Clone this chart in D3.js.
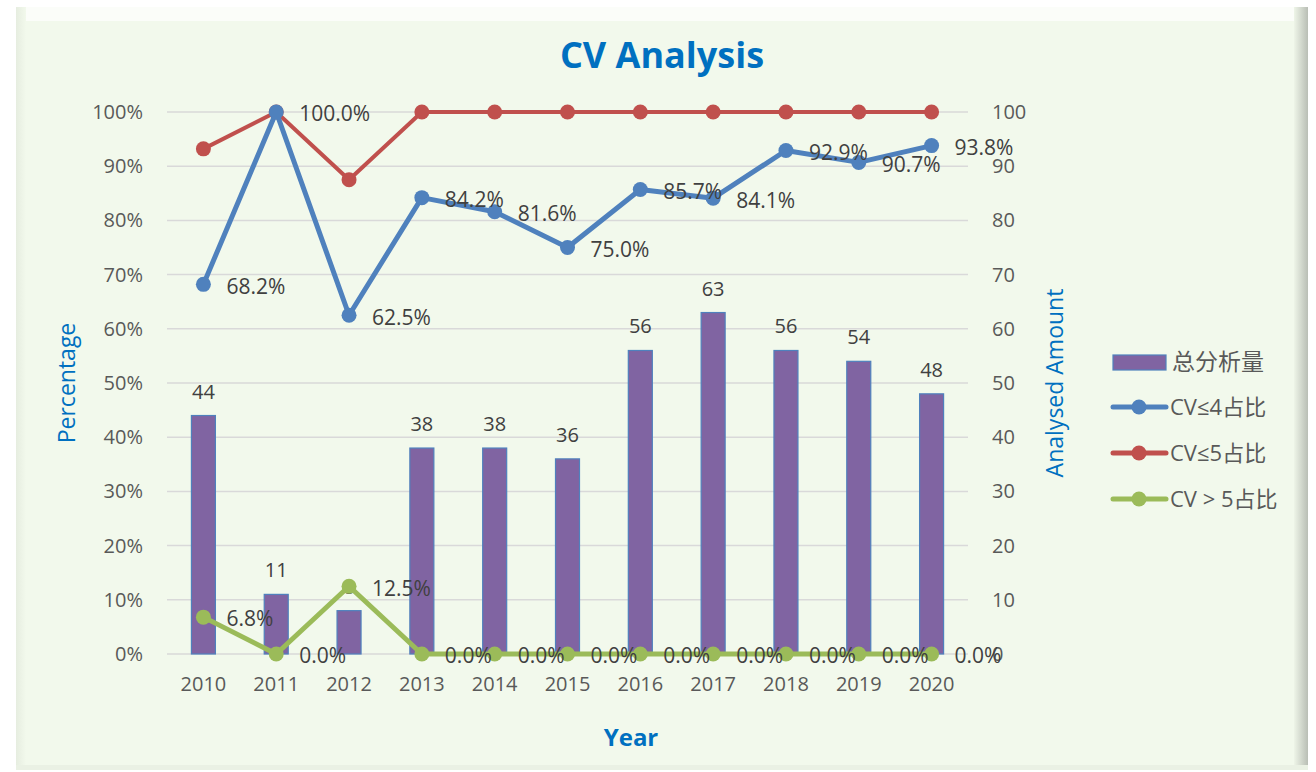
<!DOCTYPE html>
<html>
<head>
<meta charset="utf-8">
<script src="https://cdn.jsdelivr.net/npm/d3@7"></script>
<style>
  body { margin: 0; background: #fff; }
  text { font-family: "Open Sans", "Noto Sans", "Noto Sans CJK SC", sans-serif; }
</style>
</head>
<body>
<svg id="svg" width="1316" height="772"></svg>
<script>
const years = ['2010', '2011', '2012', '2013', '2014', '2015', '2016', '2017', '2018', '2019', '2020']
const amounts = [44, 11, 8, 38, 38, 36, 56, 63, 56, 54, 48]
const cv4 = [0.682, 1.0, 0.625, 0.842, 0.816, 0.75, 0.857, 0.841, 0.929, 0.907, 0.938]
const cv5 = [0.932, 1.0, 0.875, 1.0, 1.0, 1.0, 1.0, 1.0, 1.0, 1.0, 1.0]
const cvOver5 = [0.068, 0, 0.125, 0, 0, 0, 0, 0, 0, 0, 0]
const leftTicks = [0, 0.1, 0.2, 0.3, 0.4, 0.5, 0.6, 0.7, 0.8, 0.9, 1.0]
const rightTicks = [0, 10, 20, 30, 40, 50, 60, 70, 80, 90, 100]

const svg = d3.select('#svg')

// frame with a bevelled edge
const defs = svg.append('defs')
const gr = defs.append('linearGradient').attr('id', 'edgeR').attr('x1', 0).attr('x2', 1)
gr.append('stop').attr('offset', 0).attr('stop-color', '#eef5e8')
gr.append('stop').attr('offset', 1).attr('stop-color', '#b9beb5')
const gl = defs.append('linearGradient').attr('id', 'edgeL').attr('x1', 0).attr('x2', 1)
gl.append('stop').attr('offset', 0).attr('stop-color', '#e6ede0')
gl.append('stop').attr('offset', 1).attr('stop-color', '#f2f9ec')

svg.append('rect').attr('x', 16).attr('y', 7).attr('width', 1292).attr('height', 763).attr('fill', '#f2f9ec')
svg.append('rect').attr('x', 16).attr('y', 7).attr('width', 1292).attr('height', 14).attr('fill', '#fbfdf9')
svg.append('rect').attr('x', 16).attr('y', 7).attr('width', 10).attr('height', 763).attr('fill', 'url(#edgeL)')
svg.append('rect').attr('x', 1294).attr('y', 7).attr('width', 14).attr('height', 763).attr('fill', 'url(#edgeR)')
svg.append('rect').attr('x', 16).attr('y', 765).attr('width', 1292).attr('height', 5).attr('fill', '#eaf1e4')

const x = d3.scaleBand().domain(years).range([167, 968])
const cx = d => x(d) + x.bandwidth() / 2
const yL = d3.scaleLinear().domain([0, 1]).range([654, 112])
const yR = d3.scaleLinear().domain([0, 100]).range([654, 112])

// gridlines
svg.append('g').selectAll('line').data(leftTicks).enter().append('line')
  .attr('x1', 167).attr('x2', 968)
  .attr('y1', d => yL(d)).attr('y2', d => yL(d))
  .attr('stroke', '#d9d9d9').attr('stroke-width', 1.5)

// axes
const axL = svg.append('g').attr('transform', 'translate(167,0)')
  .call(d3.axisLeft(yL).tickValues(leftTicks).tickFormat(d3.format('.0%')).tickSize(0).tickPadding(24))
const axR = svg.append('g').attr('transform', 'translate(968,0)')
  .call(d3.axisRight(yR).tickValues(rightTicks).tickSize(0).tickPadding(24))
const axB = svg.append('g').attr('transform', 'translate(0,654)')
  .call(d3.axisBottom(x).tickSize(0).tickPadding(23))
;[axL, axR, axB].forEach(a => {
  a.select('.domain').remove()
  a.selectAll('text').attr('font-size', 20).attr('fill', '#595959')
    .style('font-family', '"Open Sans", sans-serif')
})

// bars
const bw = 24
svg.append('g').selectAll('rect').data(years).enter().append('rect')
  .attr('x', d => cx(d) - bw / 2)
  .attr('y', (d, i) => yR(amounts[i]))
  .attr('width', bw)
  .attr('height', (d, i) => yR(0) - yR(amounts[i]))
  .attr('fill', '#8064a2').attr('stroke', '#4f81bd').attr('stroke-width', 1.2)

svg.append('g').selectAll('text').data(years).enter().append('text')
  .attr('x', d => cx(d))
  .attr('y', (d, i) => yR(amounts[i]) - 17)
  .attr('text-anchor', 'middle').attr('font-size', 20).attr('fill', '#404040')
  .text((d, i) => amounts[i])

// lines
const series = [
  { values: cv5, color: '#c0504d', width: 4, labels: false },
  { values: cv4, color: '#4f81bd', width: 5, labels: true },
  { values: cvOver5, color: '#9bbb59', width: 5, labels: true }
]
const line = d3.line().x(d => cx(d.year)).y(d => yL(d.v))
series.forEach(s => {
  const pts = years.map((y, i) => ({ year: y, v: s.values[i] }))
  const g = svg.append('g')
  g.append('path').datum(pts).attr('d', line)
    .attr('fill', 'none').attr('stroke', s.color).attr('stroke-width', s.width)
    .attr('stroke-linejoin', 'round')
  g.selectAll('circle').data(pts).enter().append('circle')
    .attr('cx', d => cx(d.year)).attr('cy', d => yL(d.v)).attr('r', 7.5)
    .attr('fill', s.color)
  if (s.labels) {
    g.selectAll('text').data(pts).enter().append('text')
      .attr('x', d => cx(d.year) + 23)
      .attr('y', d => yL(d.v) + 2)
      .attr('dy', '0.35em')
      .attr('font-size', 21).attr('fill', '#404040')
      .text(d => d3.format('.1%')(d.v))
  }
})

// titles
svg.append('text').attr('x', 662).attr('y', 68).attr('text-anchor', 'middle')
  .attr('font-size', 36).attr('font-weight', 'bold').attr('fill', '#0070c0').text('CV Analysis')
svg.append('text').attr('x', 631).attr('y', 746).attr('text-anchor', 'middle')
  .attr('font-size', 24).attr('font-weight', 'bold').attr('fill', '#0070c0').text('Year')
svg.append('text').attr('transform', 'translate(75,383) rotate(-90)').attr('text-anchor', 'middle')
  .attr('font-size', 23).attr('fill', '#0070c0').text('Percentage')
svg.append('text').attr('transform', 'translate(1063,383) rotate(-90)').attr('text-anchor', 'middle')
  .attr('font-size', 23).attr('fill', '#0070c0').text('Analysed Amount')

// legend
const legend = svg.append('g')
legend.append('rect').attr('x', 1113).attr('y', 355).attr('width', 53).attr('height', 15)
  .attr('fill', '#8064a2').attr('stroke', '#4f81bd').attr('stroke-width', 1.2)
legend.append('text').attr('x', 1172).attr('y', 362).attr('dy', '0.35em')
  .attr('font-size', 23).attr('fill', '#595959').text('总分析量')
const legendLines = [
  { name: 'CV≤4占比', color: '#4f81bd', y: 407 },
  { name: 'CV≤5占比', color: '#c0504d', y: 453 },
  { name: 'CV > 5占比', color: '#9bbb59', y: 499 }
]
legendLines.forEach(l => {
  legend.append('line').attr('x1', 1113).attr('x2', 1166).attr('y1', l.y).attr('y2', l.y)
    .attr('stroke', l.color).attr('stroke-width', 5).attr('stroke-linecap', 'round')
  legend.append('circle').attr('cx', 1139).attr('cy', l.y).attr('r', 7.5).attr('fill', l.color)
  legend.append('text').attr('x', 1170).attr('y', l.y).attr('dy', '0.35em')
    .attr('font-size', 22).attr('fill', '#595959').text(l.name)
})
</script>
</body>
</html>
